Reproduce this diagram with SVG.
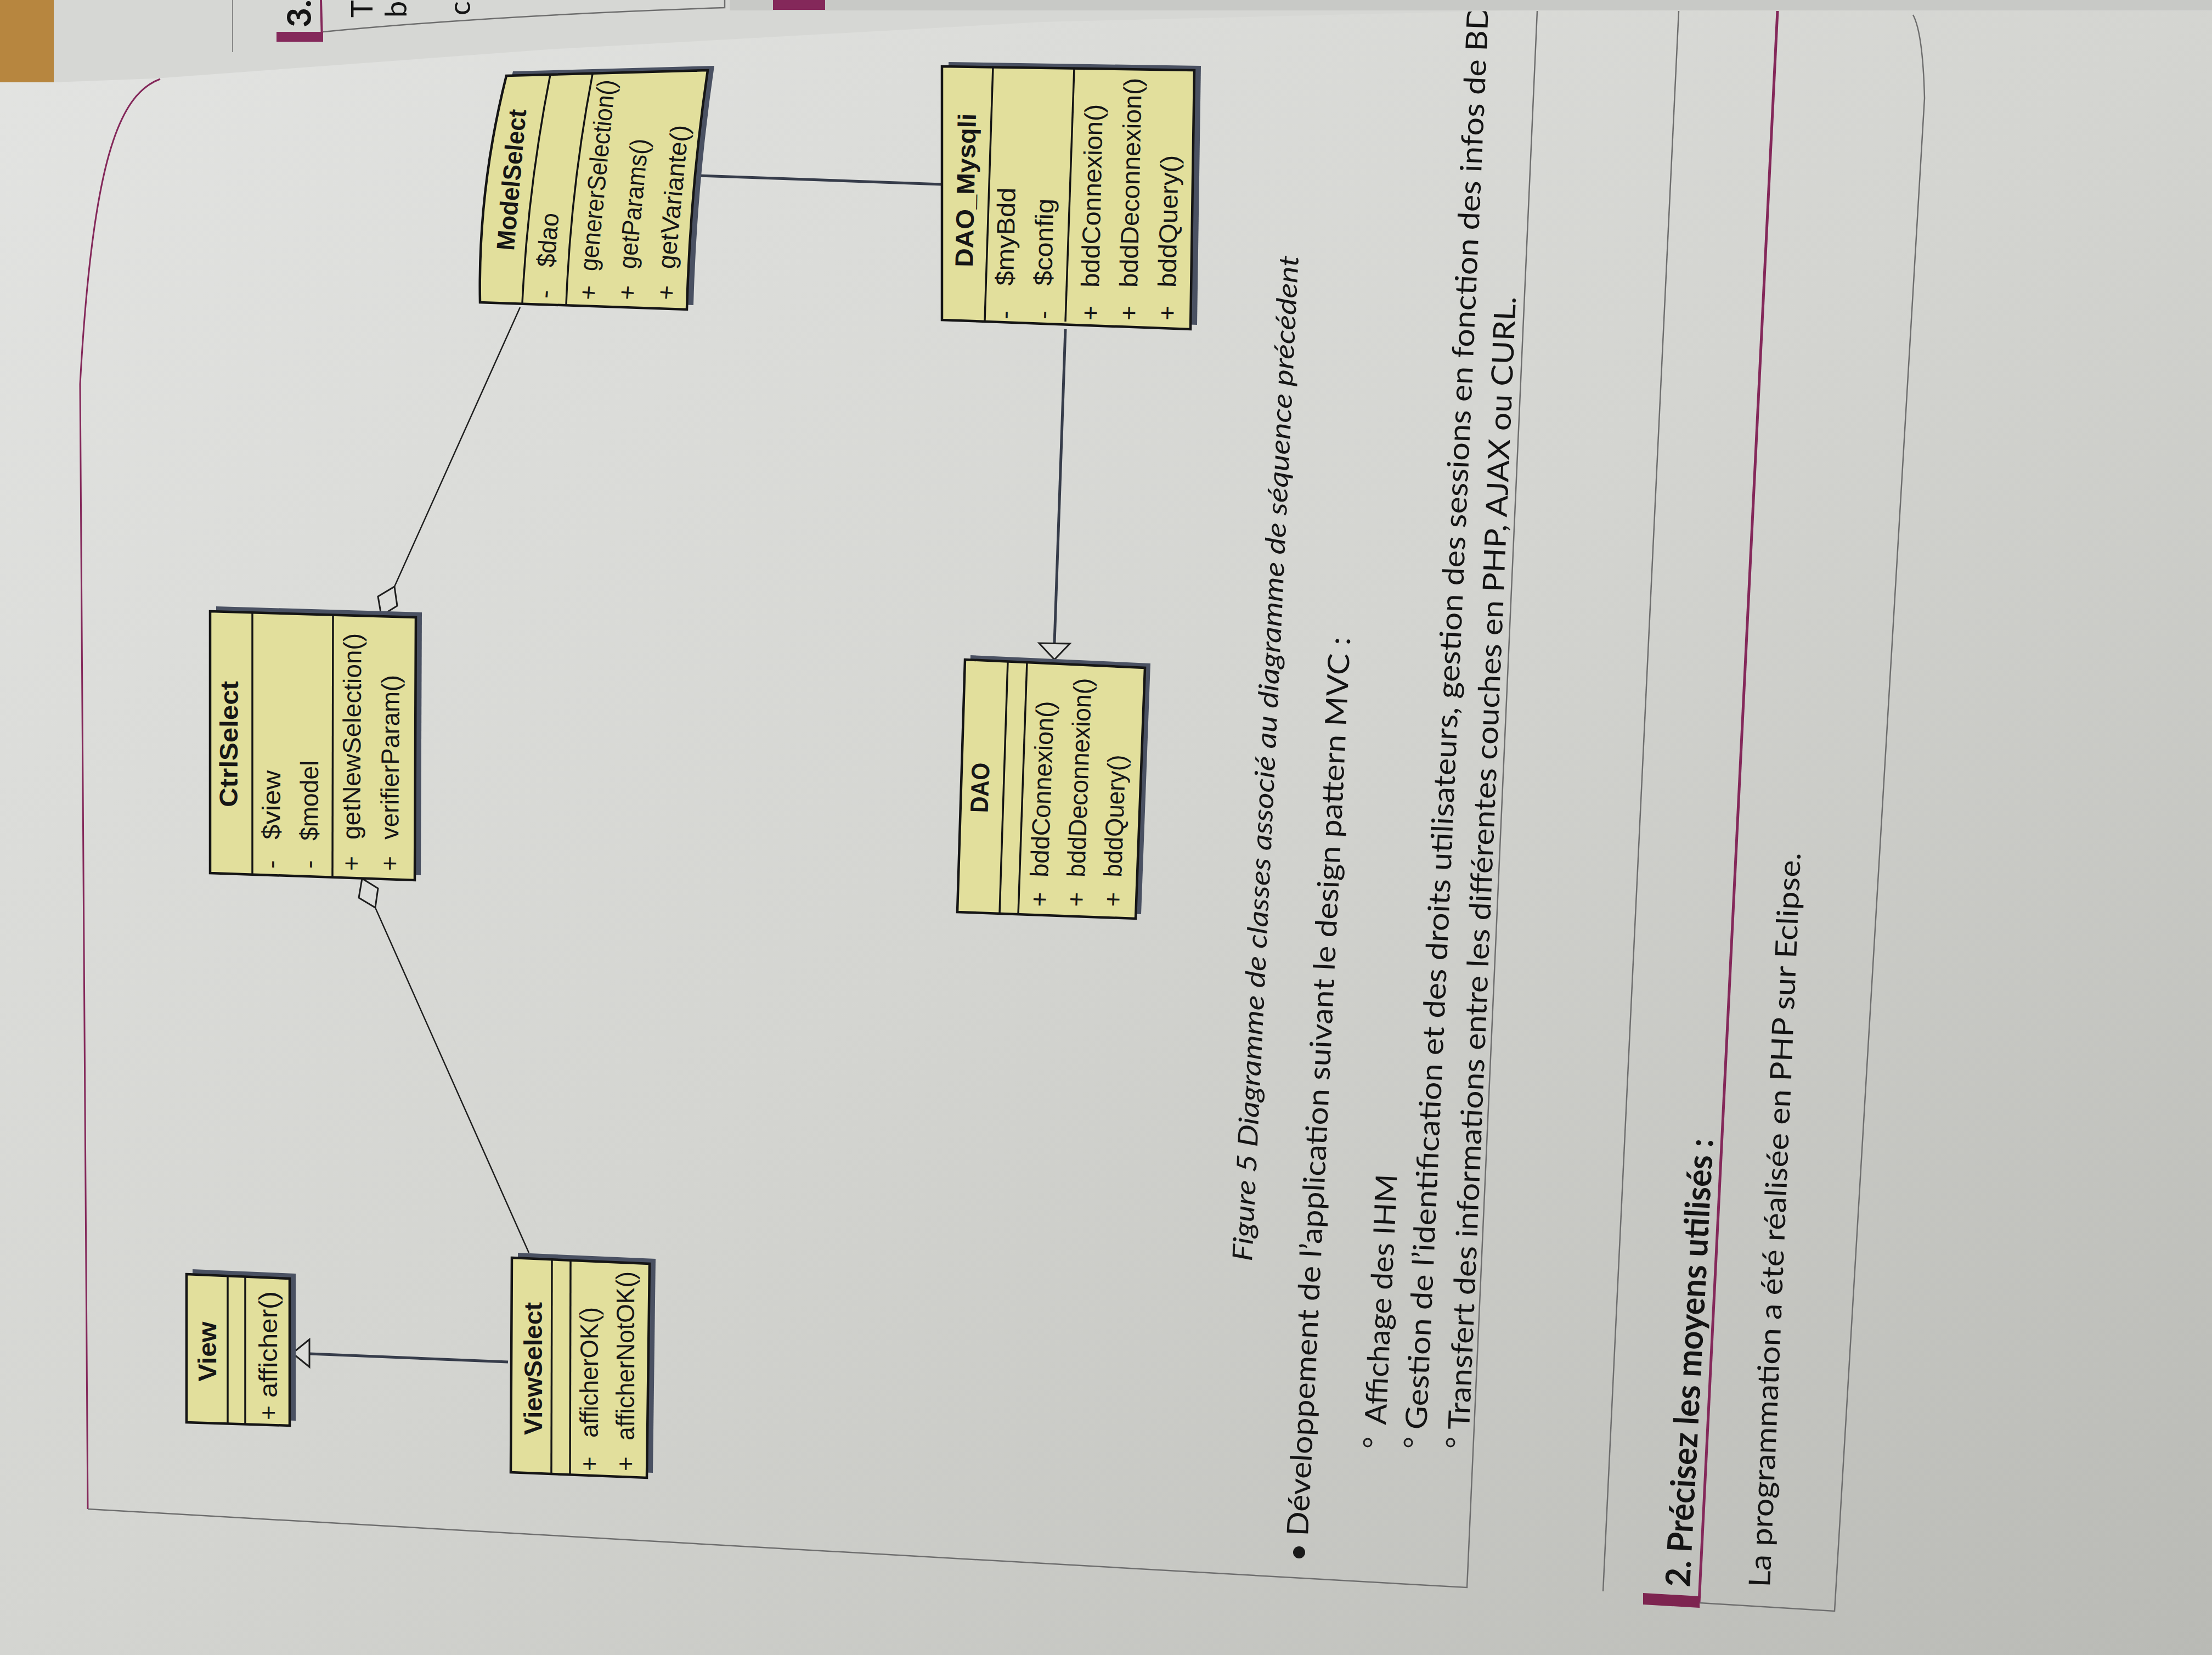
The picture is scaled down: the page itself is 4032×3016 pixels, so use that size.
<svg xmlns="http://www.w3.org/2000/svg" width="4032" height="3016" viewBox="0 0 4032 3016">
<defs>
<linearGradient id="bg" x1="0" y1="0" x2="1" y2="1">
<stop offset="0" stop-color="#e3e4e2"/>
<stop offset="0.5" stop-color="#d4d5d1"/>
<stop offset="1" stop-color="#b9bab5"/>
</linearGradient>
<style>
.box{fill:#e2df9c;stroke:#151515;stroke-width:4.5;stroke-linejoin:miter}
.sh{fill:#4a5162}
.sep{stroke:#151515;stroke-width:3.5;fill:none}
.cn{font-family:"Liberation Sans",Arial,sans-serif;font-weight:bold;font-size:46px;fill:#161616}
.mb{font-family:"Liberation Sans",Arial,sans-serif;font-size:46px;fill:#161616}
.body{font-family:Lato,"Open Sans",sans-serif;font-size:54px;fill:#141414}
.cap{font-family:Lato,"Open Sans",sans-serif;font-style:italic;font-size:50px;fill:#161616}
.hd{font-family:Lato,"Open Sans",sans-serif;font-weight:bold;font-size:62px;fill:#141414}
.thin{stroke:#1e1e1e;stroke-width:2.5;fill:none}
.thick{stroke:#363c4a;stroke-width:5;fill:none}
.hollow{fill:#dcddda;stroke:#1e1e1e;stroke-width:3}
.rule{stroke:#6e6e6e;stroke-width:2.5;fill:none}
.purple{stroke:#84285a;fill:none}
</style>
</defs>

<!-- background / paper -->
<rect x="0" y="0" width="4032" height="3016" fill="url(#bg)"/>

<!-- page rules -->
<g id="page-lines">
<path class="purple" stroke-width="3" d="M 292 144 C 215 172 168 300 146 700 L 160 2750"/>
<path class="rule" d="M 160 2750 L 2674 2893 L 2802 20"/>
<path class="rule" stroke-width="2" d="M 3060 20 L 2922 2900"/>
<path class="purple" stroke-width="5" d="M 3240 20 L 3097 2921"/>
<polygon fill="#7d2450" points="2995,2903 3098,2909 3098,2930 2995,2924"/>
<path class="rule" stroke-width="2" d="M 3487 27 Q 3505 60 3508 179 L 3344 2936 L 3098 2921"/>
</g>

<!-- body text -->
<g id="body-text">
<text class="cap" transform="translate(2282,2299) rotate(-87.35)" textLength="1835" lengthAdjust="spacingAndGlyphs">Figure 5 Diagramme de classes associé au diagramme de séquence précédent</text>
<circle cx="2368" cy="2829" r="11" fill="#1a1a1a"/>
<text class="body" transform="translate(2384,2800) rotate(-87.3)" textLength="1640" lengthAdjust="spacingAndGlyphs">Développement de l’application suivant le design pattern MVC :</text>
<circle cx="2493" cy="2629" r="7" fill="none" stroke="#1d1d1d" stroke-width="3"/>
<text class="body" transform="translate(2526,2597) rotate(-87.4)" textLength="457" lengthAdjust="spacingAndGlyphs">Affichage des IHM</text>
<circle cx="2567" cy="2629" r="7" fill="none" stroke="#1d1d1d" stroke-width="3"/>
<text class="body" transform="translate(2600,2606) rotate(-87.5)" textLength="2598" lengthAdjust="spacingAndGlyphs">Gestion de l’identification et des droits utilisateurs, gestion des sessions en fonction des infos de BD</text>
<circle cx="2644" cy="2629" r="7" fill="none" stroke="#1d1d1d" stroke-width="3"/>
<text class="body" transform="translate(2678,2606) rotate(-87.64)" textLength="2067" lengthAdjust="spacingAndGlyphs">Transfert des informations entre les différentes couches en PHP, AJAX ou CURL.</text>
<text class="hd" transform="translate(3080,2893) rotate(-87)" textLength="818" lengthAdjust="spacingAndGlyphs">2. Précisez les moyens utilisés :</text>
<text class="body" font-size="62" transform="translate(3226,2893) rotate(-87.6)" textLength="1340" lengthAdjust="spacingAndGlyphs">La programmation a été réalisée en PHP sur Eclipse.</text>
</g>

<!-- top sheet lying over the page -->
<g id="top-sheet">
<polygon fill="#d6d7d4" points="98,0 4032,0 4032,20 2802,18 1900,40 1000,90 283,143 98,150"/>
<rect x="1330" y="0" width="2702" height="19" fill="#c8c9c6"/>
<rect x="0" y="0" width="98" height="150" fill="#b7863f"/>
<line x1="424" y1="0" x2="424" y2="95" stroke="#8a8a8a" stroke-width="2"/>
<line x1="585" y1="0" x2="587" y2="74" stroke="#84285a" stroke-width="4"/>
<rect x="504" y="58" width="85" height="18" fill="#84285a"/>
<path class="rule" stroke-width="2" d="M 589 58 Q 900 28 1321 14 L 1321 0"/>
<rect x="1409" y="0" width="95" height="18" fill="#84285a"/>
<text class="hd" font-size="42" transform="translate(567,50) rotate(-90)">3.</text>
<text class="body" font-size="44" transform="translate(679,32) rotate(-90)">T</text>
<text class="body" font-size="42" transform="translate(741,32) rotate(-90)">b</text>
<text class="body" font-size="42" transform="translate(857,28) rotate(-90)">c</text>
</g>

<!-- connectors -->
<g id="connectors">
<line class="thick" x1="926" y1="2482" x2="564" y2="2467"/>
<polygon class="hollow" points="533,2466 564,2441 564,2491"/>
<line class="thin" x1="684" y1="1654" x2="964" y2="2283"/>
<polygon class="hollow" points="660,1601 689,1619 684,1654 654,1636"/>
<line class="thin" x1="719" y1="1069" x2="948" y2="560"/>
<polygon class="hollow" points="695,1122 724,1104 719,1069 689,1087"/>
<line class="thick" x1="1273" y1="320" x2="1717" y2="336"/>
<line class="thick" x1="1942" y1="600" x2="1922" y2="1172"/>
<polygon class="hollow" points="1922,1202 1894,1172 1950,1173"/>
</g>

<!-- View -->
<g id="View">
<polygon class="sh" points="351,2313 539,2321 539,2589 351,2583"/>
<polygon class="box" points="340,2322 528,2330 528,2598 340,2592"/>
<line class="sep" x1="415" y1="2325" x2="415" y2="2595"/>
<line class="sep" x1="447" y1="2326" x2="447" y2="2596"/>
<text class="cn" text-anchor="middle" transform="translate(394,2463) rotate(-90)" textLength="109" lengthAdjust="spacingAndGlyphs">View</text>
<text class="mb" transform="translate(505,2588) rotate(-90)">+</text>
<text class="mb" transform="translate(505,2547) rotate(-90)" textLength="194" lengthAdjust="spacingAndGlyphs">afficher()</text>
</g>

<!-- ViewSelect -->
<g id="ViewSelect">
<polygon class="sh" points="944,2283 1195,2294 1190,2684 942,2674"/>
<polygon class="box" points="933,2292 1184,2303 1179,2693 931,2683"/>
<line class="sep" x1="1006" y1="2295" x2="1005" y2="2686"/>
<line class="sep" x1="1040" y1="2297" x2="1039" y2="2687"/>
<text class="cn" text-anchor="middle" transform="translate(988,2494) rotate(-90)" textLength="242" lengthAdjust="spacingAndGlyphs">ViewSelect</text>
<text class="mb" transform="translate(1090,2681) rotate(-90)">+</text>
<text class="mb" transform="translate(1090,2620) rotate(-90)" textLength="238" lengthAdjust="spacingAndGlyphs">afficherOK()</text>
<text class="mb" transform="translate(1156,2681) rotate(-90)">+</text>
<text class="mb" transform="translate(1156,2625) rotate(-90)" textLength="308" lengthAdjust="spacingAndGlyphs">afficherNotOK()</text>
</g>

<!-- CtrlSelect -->
<g id="CtrlSelect">
<polygon class="sh" points="394,1105 769,1116 767,1595 394,1582"/>
<polygon class="box" points="383,1114 758,1125 756,1604 383,1591"/>
<line class="sep" x1="460" y1="1116" x2="460" y2="1593"/>
<line class="sep" x1="607" y1="1120" x2="606" y2="1598"/>
<text class="cn" text-anchor="middle" transform="translate(433,1356) rotate(-89.6)" textLength="230" lengthAdjust="spacingAndGlyphs">CtrlSelect</text>
<text class="mb" transform="translate(510,1583) rotate(-89.6)">-</text>
<text class="mb" transform="translate(510,1530) rotate(-89.6)" textLength="126" lengthAdjust="spacingAndGlyphs">$view</text>
<text class="mb" transform="translate(579,1583) rotate(-89.6)">-</text>
<text class="mb" transform="translate(579,1532) rotate(-89.6)" textLength="146" lengthAdjust="spacingAndGlyphs">$model</text>
<text class="mb" transform="translate(656,1587) rotate(-89.6)">+</text>
<text class="mb" transform="translate(656,1530) rotate(-89.6)" textLength="376" lengthAdjust="spacingAndGlyphs">getNewSelection()</text>
<text class="mb" transform="translate(726,1587) rotate(-89.6)">+</text>
<text class="mb" transform="translate(726,1530) rotate(-89.6)" textLength="300" lengthAdjust="spacingAndGlyphs">verifierParam()</text>
</g>

<!-- ModelSelect -->
<g id="ModelSelect">
<path class="sh" d="M 935 130 L 1302 120 Q 1270 338 1264 556 L 887 543 Q 883 337 935 130 Z"/>
<path class="box" d="M 923 138 L 1290 128 Q 1258 346 1252 564 L 875 551 Q 871 345 923 138 Z"/>
<path class="sep" d="M 1003 136 Q 962 345 952 553"/>
<path class="sep" d="M 1080 135 Q 1040 345 1032 556"/>
<text class="cn" text-anchor="middle" transform="translate(948,329) rotate(-85)" textLength="258" lengthAdjust="spacingAndGlyphs">ModelSelect</text>
<text class="mb" transform="translate(1008,545) rotate(-85)">-</text>
<text class="mb" transform="translate(1010,488) rotate(-85)" textLength="99" lengthAdjust="spacingAndGlyphs">$dao</text>
<text class="mb" transform="translate(1087,548) rotate(-85)">+</text>
<text class="mb" transform="translate(1088,495) rotate(-84.5)" textLength="350" lengthAdjust="spacingAndGlyphs">genererSelection()</text>
<text class="mb" transform="translate(1158,548) rotate(-85)">+</text>
<text class="mb" transform="translate(1159,491) rotate(-84.5)" textLength="238" lengthAdjust="spacingAndGlyphs">getParams()</text>
<text class="mb" transform="translate(1229,548) rotate(-85)">+</text>
<text class="mb" transform="translate(1230,491) rotate(-84.5)" textLength="263" lengthAdjust="spacingAndGlyphs">getVariante()</text>
</g>

<!-- DAO_Mysqli -->
<g id="DAO_Mysqli">
<polygon class="sh" points="1729,113 2189,120 2182,592 1729,575"/>
<polygon class="box" points="1717,121 2177,128 2170,600 1717,583"/>
<line class="sep" x1="1810" y1="122" x2="1795" y2="584"/>
<line class="sep" x1="1958" y1="125" x2="1942" y2="586"/>
<text class="cn" text-anchor="middle" transform="translate(1776,347) rotate(-88.8)" textLength="280" lengthAdjust="spacingAndGlyphs">DAO_Mysqli</text>
<text class="mb" transform="translate(1847,582) rotate(-88.8)">-</text>
<text class="mb" transform="translate(1847,521) rotate(-88.8)" textLength="179" lengthAdjust="spacingAndGlyphs">$myBdd</text>
<text class="mb" transform="translate(1917,582) rotate(-88.8)">-</text>
<text class="mb" transform="translate(1917,521) rotate(-88.8)" textLength="159" lengthAdjust="spacingAndGlyphs">$config</text>
<text class="mb" transform="translate(2003,584) rotate(-88.8)">+</text>
<text class="mb" transform="translate(2003,524) rotate(-88.8)" textLength="334" lengthAdjust="spacingAndGlyphs">bddConnexion()</text>
<text class="mb" transform="translate(2073,584) rotate(-88.8)">+</text>
<text class="mb" transform="translate(2073,524) rotate(-88.8)" textLength="382" lengthAdjust="spacingAndGlyphs">bddDeconnexion()</text>
<text class="mb" transform="translate(2143,584) rotate(-88.8)">+</text>
<text class="mb" transform="translate(2143,524) rotate(-88.8)" textLength="241" lengthAdjust="spacingAndGlyphs">bddQuery()</text>
</g>

<!-- DAO -->
<g id="DAO">
<polygon class="sh" points="1769,1194 2097,1209 2080,1666 1755,1654"/>
<polygon class="box" points="1759,1202 2087,1217 2070,1674 1745,1662"/>
<line class="sep" x1="1837" y1="1205" x2="1822" y2="1665"/>
<line class="sep" x1="1872" y1="1207" x2="1856" y2="1667"/>
<text class="cn" text-anchor="middle" transform="translate(1802,1436) rotate(-88)" textLength="91" lengthAdjust="spacingAndGlyphs">DAO</text>
<text class="mb" transform="translate(1910,1653) rotate(-88)">+</text>
<text class="mb" transform="translate(1910,1599) rotate(-88)" textLength="321" lengthAdjust="spacingAndGlyphs">bddConnexion()</text>
<text class="mb" transform="translate(1977,1653) rotate(-88)">+</text>
<text class="mb" transform="translate(1977,1599) rotate(-88)" textLength="363" lengthAdjust="spacingAndGlyphs">bddDeconnexion()</text>
<text class="mb" transform="translate(2044,1653) rotate(-88)">+</text>
<text class="mb" transform="translate(2044,1599) rotate(-88)" textLength="223" lengthAdjust="spacingAndGlyphs">bddQuery()</text>
</g>
</svg>
